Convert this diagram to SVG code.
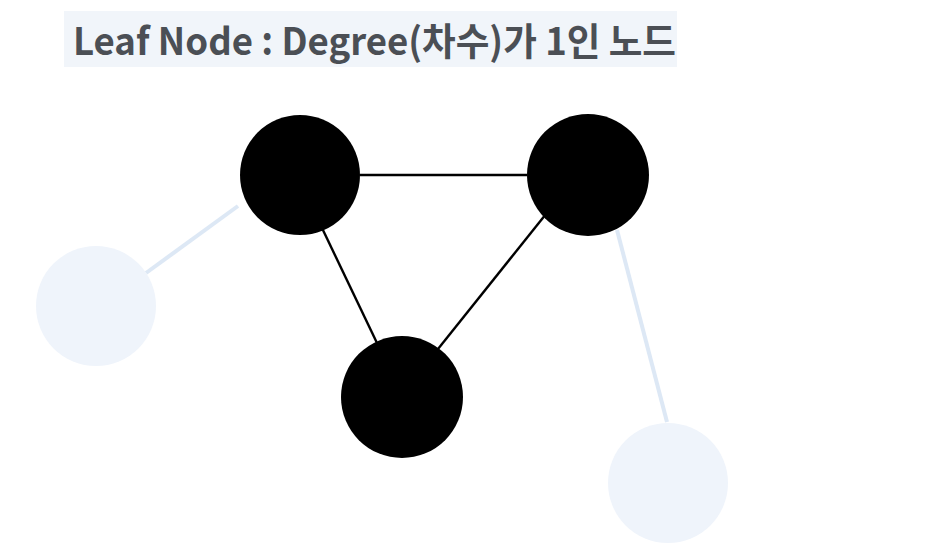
<svg xmlns="http://www.w3.org/2000/svg" width="930" height="558" viewBox="0 0 930 558">
<style>
.title{font-family:"Noto Sans CJK KR","Noto Sans",sans-serif;font-weight:700;font-size:38px;fill:#4b4f55}
.main{fill:#000}
.leaf{fill:#eff4fb}
.edge{stroke:#000;stroke-width:2.4;fill:none}
.ledge{stroke:#dde8f5;stroke-width:4;fill:none}
</style>
<rect x="64" y="11" width="613" height="56" fill="#f1f5fa"/>
<text class="title" x="73" y="55" textLength="603" lengthAdjust="spacingAndGlyphs">Leaf Node : Degree(차수)가 1인 노드</text>
<g id="connectors">
<line class="edge" x1="360" y1="175" x2="527" y2="175"/>
<line class="edge" x1="322" y1="228" x2="377" y2="343"/>
<line class="edge" x1="546" y1="214" x2="438" y2="349"/>
<line class="ledge" x1="238" y1="206" x2="146" y2="273"/>
<line class="ledge" x1="617" y1="230" x2="667" y2="422"/>
</g>
<g id="nodeA"><circle class="main" cx="300" cy="175" r="60"/></g>
<g id="nodeB"><circle class="main" cx="588" cy="175" r="61"/></g>
<g id="nodeC"><circle class="main" cx="402" cy="397" r="61"/></g>
<g id="leaf1"><circle class="leaf" cx="96" cy="306" r="60"/></g>
<g id="leaf2"><circle class="leaf" cx="668" cy="483" r="60"/></g>
</svg>
